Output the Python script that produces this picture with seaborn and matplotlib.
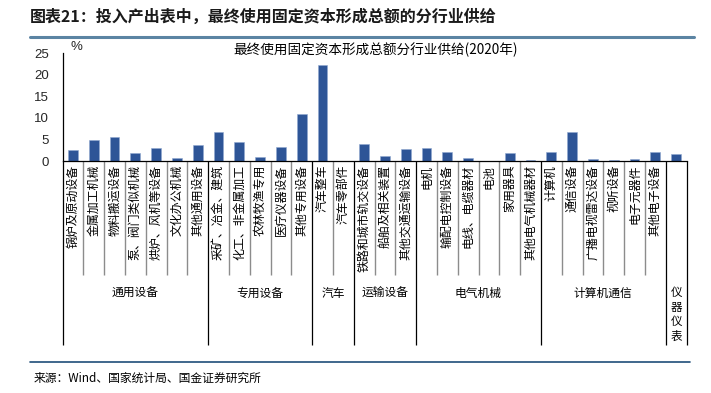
import matplotlib
matplotlib.use("Agg")
import matplotlib.pyplot as plt
import matplotlib.transforms as mtransforms
import seaborn as sns
import pandas as pd

# ---------------- data ----------------
categories = [
    "锅炉及原动设备", "金属加工机械", "物料搬运设备", "泵、阀门类似机械", "烘炉、风机等设备",
    "文化办公机械", "其他通用设备",
    "采矿、冶金、建筑", "化工、非金属加工", "农林牧渔专用", "医疗仪器设备", "其他专用设备",
    "汽车整车", "汽车零部件",
    "铁路和城市轨交设备", "船舶及相关装置", "其他交通运输设备",
    "电机", "输配电控制设备", "电线、电缆器材", "电池", "家用器具", "其他电气机械器材",
    "计算机", "通信设备", "广播电视雷达设备", "视听设备", "电子元器件", "其他电子设备",
    "仪器仪表",
]
tick_labels = categories[:-1] + [""]
values = [
    2.5, 4.9, 5.6, 1.8, 3.0, 0.6, 3.6,
    6.7, 4.4, 1.0, 3.2, 10.8,
    22.4, 0.05,
    3.9, 1.2, 2.7,
    3.0, 2.2, 0.6, 0.0, 1.9, 0.2,
    2.1, 6.8, 0.4, 0.2, 0.4, 2.1,
    1.7,
]
groups = ["通用设备", "专用设备", "汽车", "运输设备", "电气机械", "计算机通信", "仪器仪表"]
group_sizes = [7, 5, 2, 3, 6, 6, 1]
yticks = [0, 5, 10, 15, 20, 25]

title = "图表21：投入产出表中，最终使用固定资本形成总额的分行业供给"
chart_title = "最终使用固定资本形成总额分行业供给(2020年)"
source = "来源：Wind、国家统计局、国金证券研究所"

# ---------------- style ----------------
sns.set_style("white")
plt.rcParams["font.family"] = ["Noto Sans CJK SC", "DejaVu Sans"]

W, H = 711, 393
fig = plt.figure(figsize=(W / 100, H / 100), dpi=100)

def fx(px):
    return px / W

def fy(py):
    return 1 - py / H

ax_left, ax_right = 62.5, 686.5
ax_top, ax_bottom = 53.3, 161
ax = fig.add_axes([fx(ax_left), fy(ax_bottom), fx(ax_right - ax_left), (ax_bottom - ax_top) / H])

df = pd.DataFrame({"cat": categories, "val": values})
sns.barplot(data=df, x="cat", y="val", color="#2E5597", width=0.47, saturation=1,
            edgecolor="#8FA8D0", linewidth=0.4, ax=ax)

ax.set_xlim(-0.5, len(categories) - 0.5)
ax.set_ylim(0, 25)
ax.set_yticks(yticks)
ax.set_yticklabels([str(t) for t in yticks], family=["Liberation Sans"], fontsize=9.5)
ax.set_xticks([])
ax.set_xlabel("")
ax.set_ylabel("")
for s in ["top", "right"]:
    ax.spines[s].set_visible(False)
ax.spines["left"].set_color("#000000")
ax.spines["left"].set_linewidth(0.9)
ax.spines["bottom"].set_color("#000000")
ax.spines["bottom"].set_linewidth(0.9)
ax.tick_params(axis="y", direction="out", length=4, width=0.8, color="black", pad=6)

# ---------------- category separators and labels ----------------
trans = mtransforms.blended_transform_factory(ax.transData, fig.transFigure)
boundaries = [0]
for s in group_sizes:
    boundaries.append(boundaries[-1] + s)

y_axis = fy(ax_bottom)
y_cat_end = fy(275)
y_grp_end = fy(345)
for i in range(len(categories) + 1):
    x = i - 0.5
    if i in boundaries:
        ax.plot([x, x], [y_axis, y_grp_end], transform=trans, color="#000000",
                lw=0.9, clip_on=False, solid_capstyle="butt")
    else:
        ax.plot([x, x], [y_axis, y_cat_end], transform=trans, color="#8C8C8C",
                lw=1.0, clip_on=False, solid_capstyle="butt")

for i, lab in enumerate(tick_labels):
    if lab:
        ax.text(i, fy(165), lab, transform=trans, rotation=90, ha="center", va="top",
                fontsize=8.6, color="#000000")

for g, start, size in zip(groups, boundaries[:-1], group_sizes):
    cx = start + size / 2 - 0.5
    if size == 1:
        ax.text(cx, fy(286), "\n".join(g), transform=trans, ha="center", va="top",
                fontsize=8.3, linespacing=1.15, color="#000000")
    else:
        ax.text(cx, fy(293), g, transform=trans, ha="center", va="center",
                fontsize=8.5, color="#000000")

# ---------------- texts ----------------
fig.text(fx(76), fy(47), "%", family=["Liberation Sans"], fontsize=9.5, ha="center", va="center")
fig.text(fx(376), fy(50), chart_title, fontsize=9.8, ha="center", va="center", color="#000000")

fig.text(fx(30), fy(17), title, fontsize=11.5, fontweight="bold", fontstyle="italic",
         ha="left", va="center", color="#1A1A1A")
fig.add_artist(plt.Line2D([fx(30), fx(694)], [fy(37), fy(37)], color="#5B84A3", lw=2.2))

fig.add_artist(plt.Line2D([fx(30), fx(690)], [fy(362), fy(362)], color="#1F4E79", lw=1.2))
fig.text(fx(34), fy(378), source, fontsize=8.5, ha="left", va="center", color="#000000")

fig.savefig("out.png", dpi=100)
